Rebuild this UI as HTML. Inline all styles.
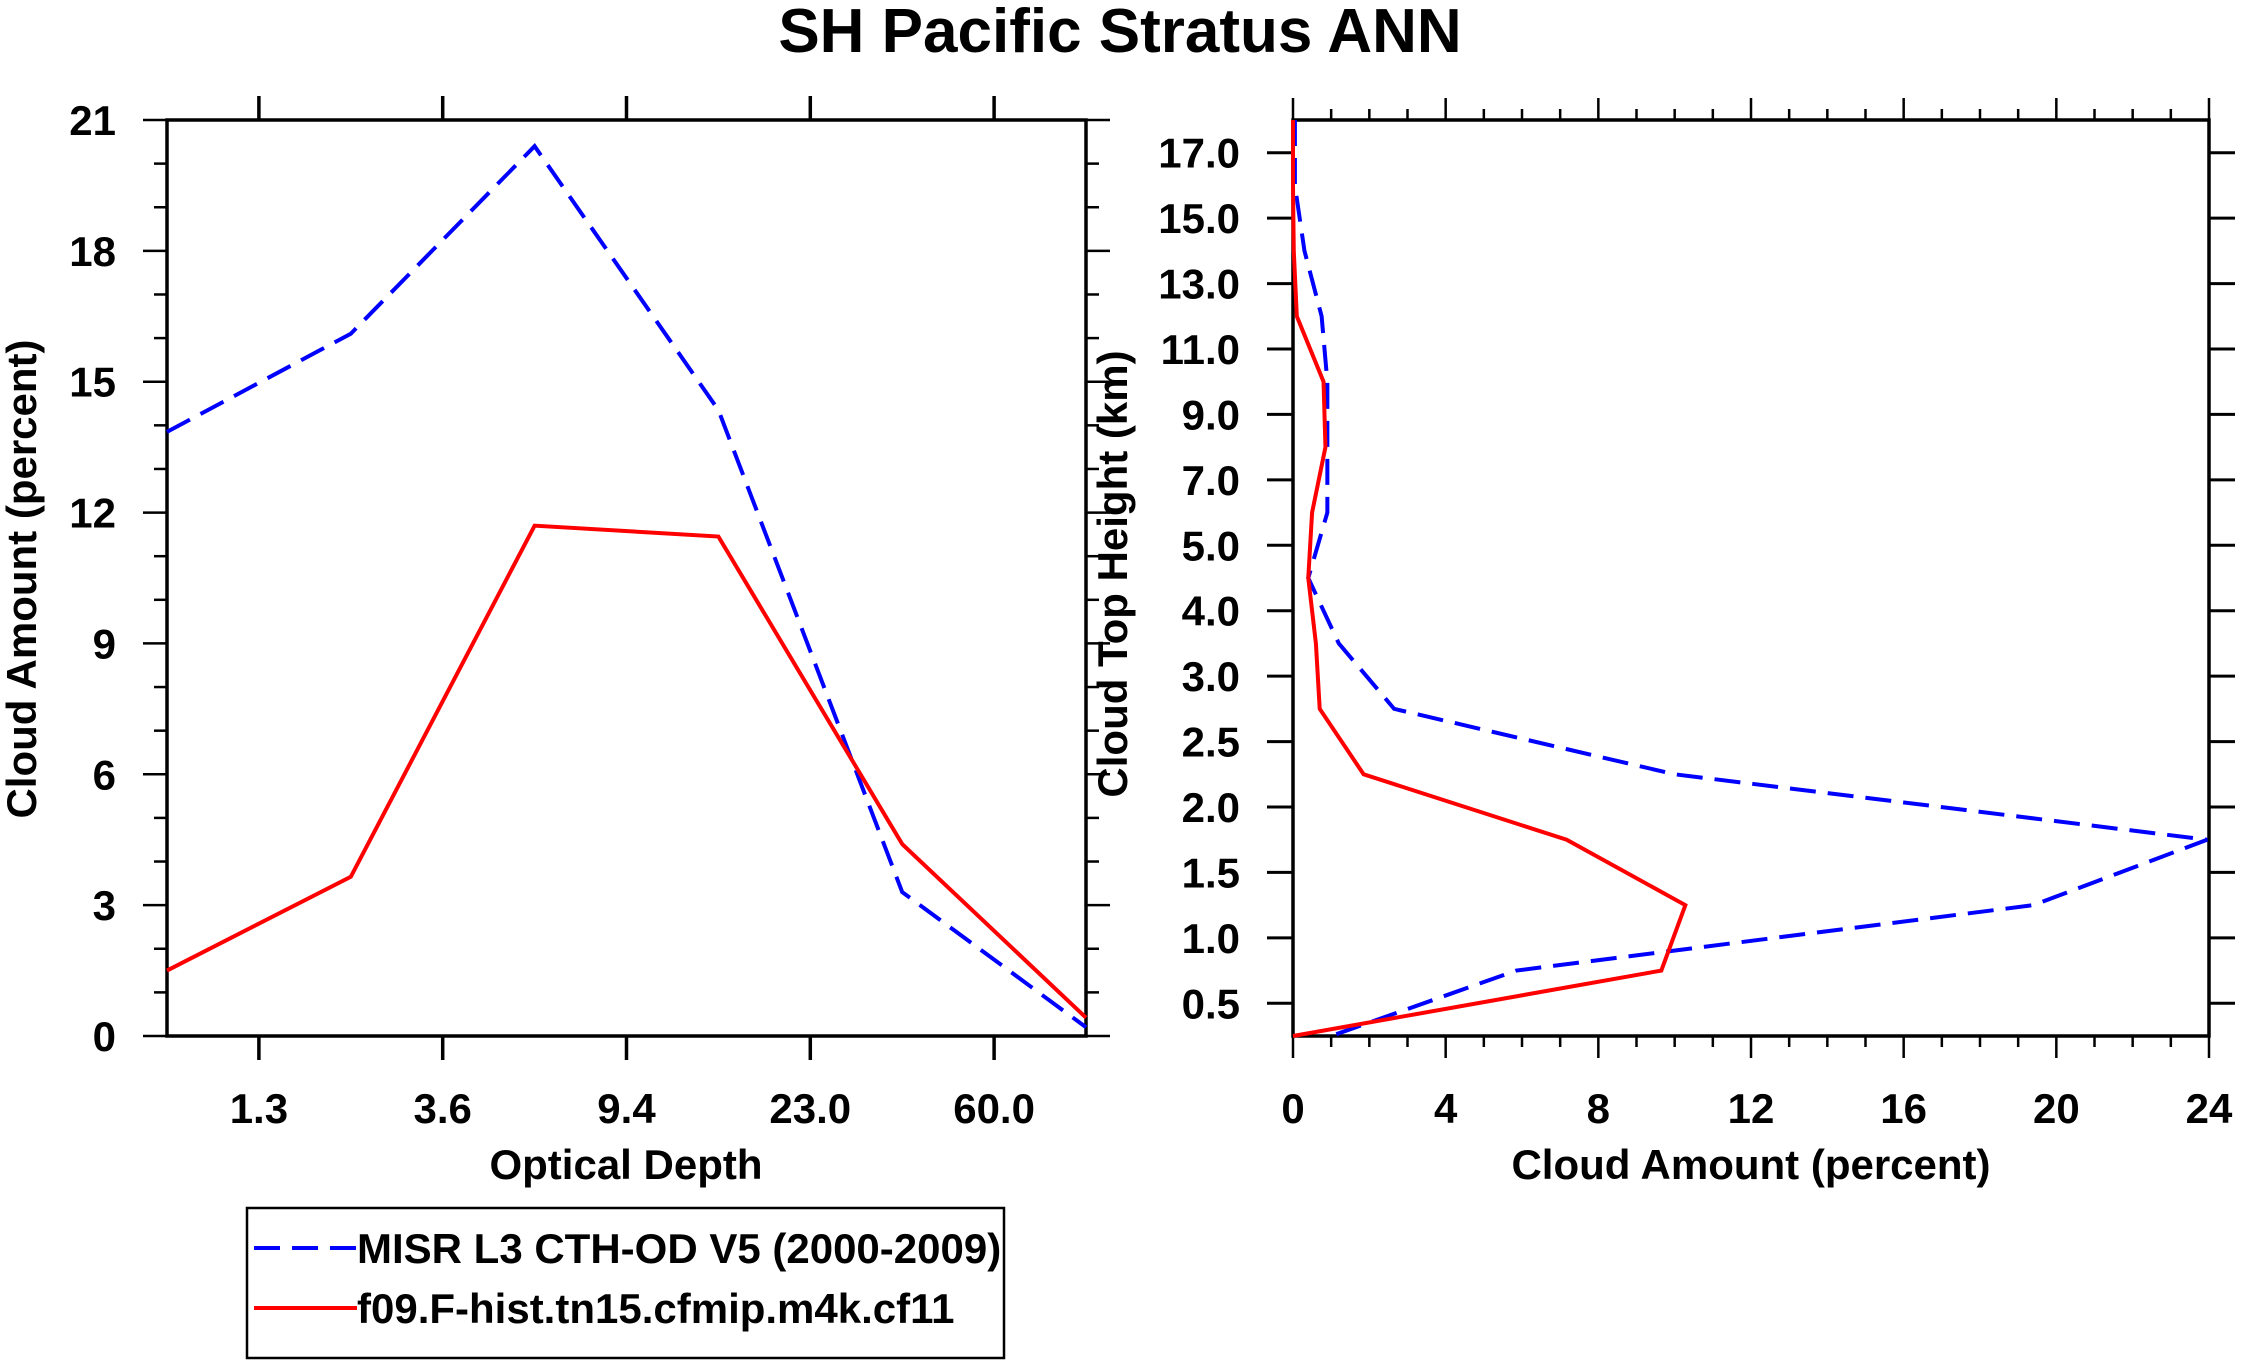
<!DOCTYPE html>
<html><head><meta charset="utf-8"><style>
html,body{margin:0;padding:0;background:#fff;}
svg{display:block;}
text{font-family:"Liberation Sans",sans-serif;font-weight:bold;fill:#000;}
</style></head><body>
<svg id="chart" width="2241" height="1367" viewBox="0 0 2241 1367" xmlns="http://www.w3.org/2000/svg">
<text x="1120" y="52" font-size="62" text-anchor="middle">SH Pacific Stratus ANN</text>
<g id="left"></g>
<g id="right"></g>
<g>
<rect x="247" y="1208" width="757" height="150" fill="none" stroke="#000" stroke-width="2.5"/>
<line x1="254" y1="1248" x2="357" y2="1248" stroke="#0000ff" stroke-width="4" stroke-dasharray="26,12"/>
<text x="357" y="1263" font-size="42">MISR L3 CTH-OD V5 (2000-2009)</text>
<line x1="254" y1="1308" x2="357" y2="1308" stroke="#ff0000" stroke-width="4"/>
<text x="357" y="1323" font-size="42">f09.F-hist.tn15.cfmip.m4k.cf11</text>
</g>
</svg>
<script>
// Left chart data
const odLabels = ["1.3","3.6","9.4","23.0","60.0"];
const misrOD = [13.85, 16.1, 20.4, 14.35, 3.3, 0.2];
const modelOD = [1.5, 3.65, 11.7, 11.45, 4.4, 0.42];
const leftYTicks = [0,3,6,9,12,15,18,21];
// Right chart data
const cthLabels = ["17.0","15.0","13.0","11.0","9.0","7.0","5.0","4.0","3.0","2.5","2.0","1.5","1.0","0.5"];
const misrCTH = [0.05,0.05,0.3,0.75,0.9,0.9,0.9,0.4,1.2,2.65,10.0,23.95,19.4,5.85,1.0];
const modelCTH = [0,0,0.02,0.1,0.8,0.85,0.5,0.4,0.6,0.7,1.85,7.17,10.28,9.65,0];
const rightXTicks = [0,4,8,12,16,20,24];

const NS="http://www.w3.org/2000/svg";
function mk(parent,tag,attrs){const e=document.createElementNS(NS,tag);for(const k in attrs)e.setAttribute(k,attrs[k]);parent.appendChild(e);return e;}
const T=120,B=1036,FS=42;

// LEFT PANEL
(function(){
const g=document.getElementById('left');
const L=167,R=1086;
const xs=i=>L+i*(R-L)/5;
const ys=v=>B-v*(B-T)/21;
for(let v=0;v<=21;v++){
 const major=v%3===0, len=major?24:13;
 let t=mk(g,'line',{x1:L-len,y1:ys(v),x2:L,y2:ys(v),stroke:'#000','stroke-width':2.5});
 
 
 t=mk(g,'line',{x1:R,y1:ys(v),x2:R+len,y2:ys(v),stroke:'#000','stroke-width':2.5});
 
 
}
leftYTicks.forEach(v=>{
 const t=mk(g,'text',{x:116,y:ys(v)+15,'font-size':FS,'text-anchor':'end'});t.textContent=v;
 
 
});
odLabels.forEach((s,i)=>{
 const x=xs(i+0.5);
 let t=mk(g,'line',{x1:x,y1:T-24,x2:x,y2:T,stroke:'#000','stroke-width':3.5});
 
 
 t=mk(g,'line',{x1:x,y1:B,x2:x,y2:B+24,stroke:'#000','stroke-width':3.5});
 
 
 const lb=mk(g,'text',{x:x,y:1123,'font-size':FS,'text-anchor':'middle'});lb.textContent=s;
 
 
});
const fr=mk(g,'rect',{x:L,y:T,width:R-L,height:B-T,fill:'none',stroke:'#000','stroke-width':3.5});


const p1=mk(g,'polyline',{points:misrOD.map((v,i)=>xs(i)+','+ys(v)).join(' '),fill:'none',stroke:'#0000ff','stroke-width':4,'stroke-dasharray':'26,12'});


const p2=mk(g,'polyline',{points:modelOD.map((v,i)=>xs(i)+','+ys(v)).join(' '),fill:'none',stroke:'#ff0000','stroke-width':4});


let t=mk(g,'text',{x:626,y:1179,'font-size':FS,'text-anchor':'middle'});t.textContent='Optical Depth';


t=mk(g,'text',{x:0,y:0,'font-size':FS,'text-anchor':'middle',transform:'translate(36,579) rotate(-90)'});t.textContent='Cloud Amount (percent)';


})();

// RIGHT PANEL
(function(){
const g=document.getElementById('right');
const L=1293,R=2209;
const xs=v=>L+v*(R-L)/24;
const ys=k=>T+k*(B-T)/14;
for(let v=0;v<=24;v++){
 const major=v%4===0,len=major?22:11;
 let t=mk(g,'line',{x1:xs(v),y1:T-len,x2:xs(v),y2:T,stroke:'#000','stroke-width':2.5});
 
 
 t=mk(g,'line',{x1:xs(v),y1:B,x2:xs(v),y2:B+len,stroke:'#000','stroke-width':2.5});
 
 
}
rightXTicks.forEach(v=>{
 const t=mk(g,'text',{x:xs(v),y:1123,'font-size':FS,'text-anchor':'middle'});t.textContent=v;
 
 
});
cthLabels.forEach((s,i)=>{
 const y=ys(i+0.5);
 let t=mk(g,'line',{x1:L-26,y1:y,x2:L,y2:y,stroke:'#000','stroke-width':3});
 
 
 t=mk(g,'line',{x1:R,y1:y,x2:R+26,y2:y,stroke:'#000','stroke-width':3});
 
 
 const lb=mk(g,'text',{x:1240,y:y+15,'font-size':FS,'text-anchor':'end'});lb.textContent=s;
 
 
});
const fr=mk(g,'rect',{x:L,y:T,width:R-L,height:B-T,fill:'none',stroke:'#000','stroke-width':3.5});


const p1=mk(g,'polyline',{points:misrCTH.map((v,k)=>xs(v)+','+ys(k)).join(' '),fill:'none',stroke:'#0000ff','stroke-width':4,'stroke-dasharray':'26,12'});


const p2=mk(g,'polyline',{points:modelCTH.map((v,k)=>xs(v)+','+ys(k)).join(' '),fill:'none',stroke:'#ff0000','stroke-width':4});


let t=mk(g,'text',{x:1751,y:1179,'font-size':FS,'text-anchor':'middle'});t.textContent='Cloud Amount (percent)';


t=mk(g,'text',{x:0,y:0,'font-size':FS,'text-anchor':'middle',transform:'translate(1127,574) rotate(-90)'});t.textContent='Cloud Top Height (km)';


})();
</script>
</body></html>
